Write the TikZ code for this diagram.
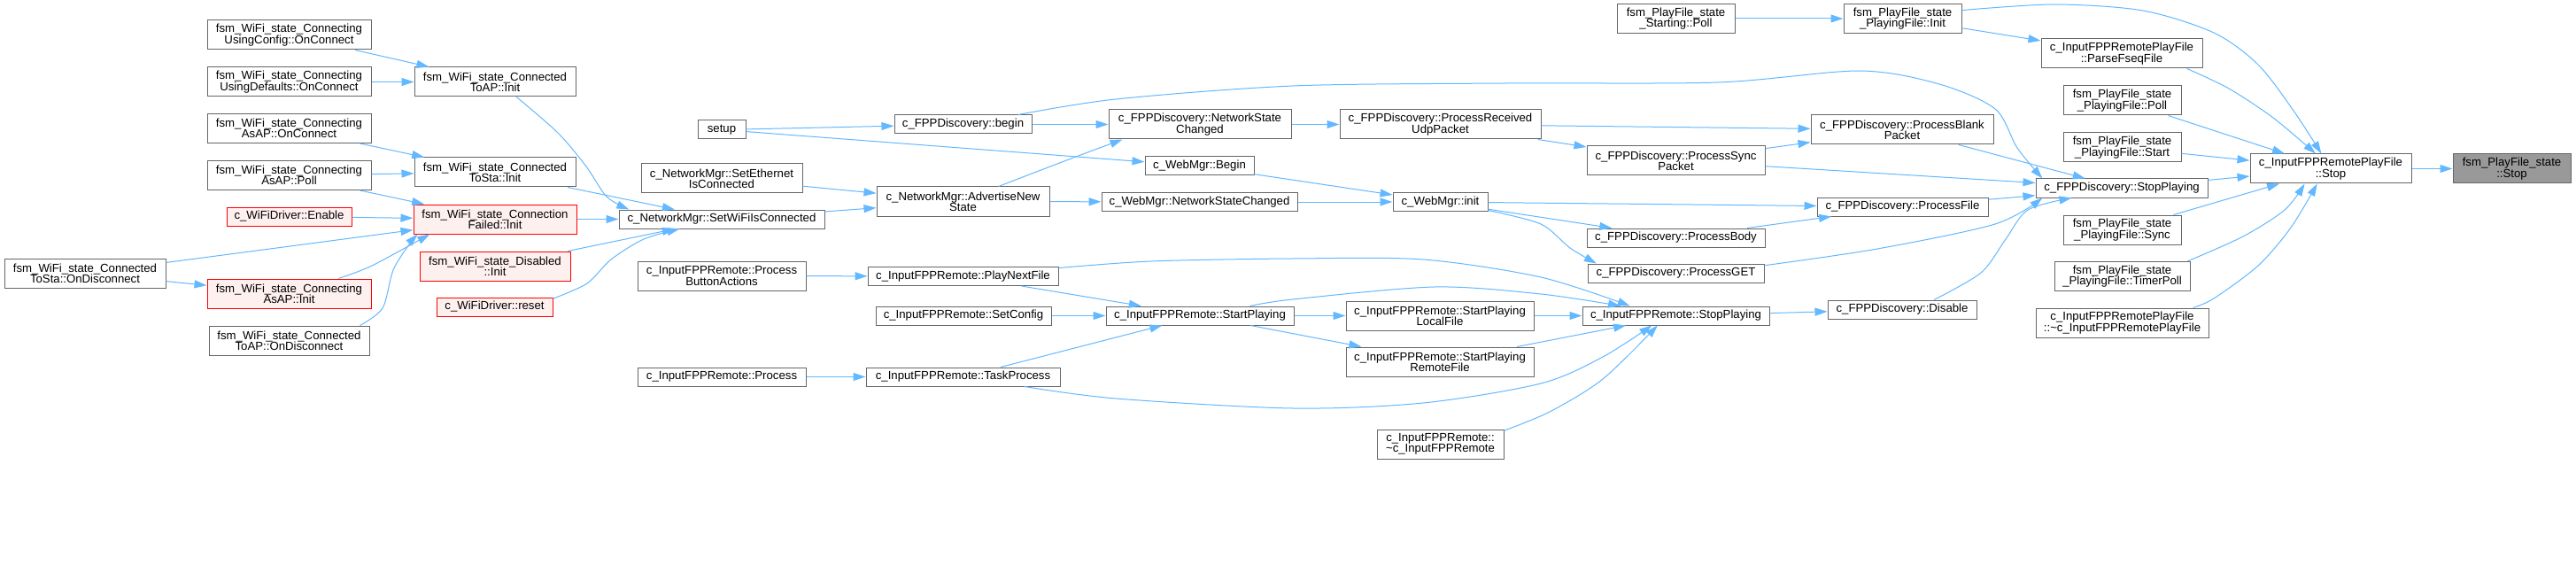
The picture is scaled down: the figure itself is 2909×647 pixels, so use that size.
\documentclass[tikz,border=0pt]{standalone}
\usepackage{fontspec}
\setmainfont{Liberation Sans}
\usetikzlibrary{arrows.meta}
\definecolor{edgec}{HTML}{63B8FF}
\definecolor{boxc}{HTML}{666666}
\definecolor{redfill}{HTML}{FFF0F0}
\definecolor{rootfill}{HTML}{999999}
\newcommand\dxfont{\fontsize{13.2}{12.2}\selectfont\lineskiplimit=-30pt\relax}
\begin{document}
\begin{tikzpicture}[x=1pt,y=-1pt,
 box/.style={draw=boxc, fill=white, line width=1pt, inner sep=0pt, align=center, font=\dxfont, text=black},
 redbox/.style={box, draw=red, fill=redfill},
 rootbox/.style={box, fill=rootfill},
 sz/.style 2 args={minimum width=#1pt, minimum height=#2pt},
 edge/.style={draw=edgec, line width=1pt, -{Triangle[length=14pt,width=9pt]}}]
\useasboundingbox[fill=white] (0,0) rectangle (2909,647);

% WiFi state machine side
\node[box, sz={185}{33}] (ucOn) at (326.5,39.5) {fsm\_WiFi\_state\_Connecting\\UsingConfig::OnConnect};
\node[box, sz={185}{33}] (udOn) at (326.5,92.5) {fsm\_WiFi\_state\_Connecting\\UsingDefaults::OnConnect};
\node[box, sz={185}{33}] (aaOn) at (326.5,145) {fsm\_WiFi\_state\_Connecting\\AsAP::OnConnect};
\node[box, sz={185}{33}] (aaPoll) at (326.5,198) {fsm\_WiFi\_state\_Connecting\\AsAP::Poll};
\node[redbox, sz={141}{21}] (wdEn) at (326.5,244.5) {c\_WiFiDriver::Enable};
\node[box, sz={182}{33}] (tsOnD) at (96,308.5) {fsm\_WiFi\_state\_Connected\\ToSta::OnDisconnect};
\node[redbox, sz={185}{33}] (aaInit) at (326.5,331.5) {fsm\_WiFi\_state\_Connecting\\AsAP::Init};
\node[box, sz={181}{33}] (apOnD) at (326.5,384.5) {fsm\_WiFi\_state\_Connected\\ToAP::OnDisconnect};
\node[box, sz={182}{33}] (apInit) at (559,92.5) {fsm\_WiFi\_state\_Connected\\ToAP::Init};
\node[box, sz={182}{33}] (tsInit) at (559,194.5) {fsm\_WiFi\_state\_Connected\\ToSta::Init};
\node[redbox, sz={184}{33}] (cfInit) at (559,247.5) {fsm\_WiFi\_state\_Connection\\Failed::Init};
\node[redbox, sz={170}{33}] (disInit) at (559,300.5) {fsm\_WiFi\_state\_Disabled\\::Init};
\node[redbox, sz={131}{21}] (wdReset) at (558.5,346.5) {c\_WiFiDriver::reset};
\node[box, sz={54}{21}] (setup) at (815,146.5) {setup};
\node[box, sz={182}{33}] (setEth) at (815,201.5) {c\_NetworkMgr::SetEthernet\\IsConnected};
\node[box, sz={232}{21}] (setWiFi) at (815,247.5) {c\_NetworkMgr::SetWiFiIsConnected};
\node[box, sz={190}{33}] (pba) at (815,311.5) {c\_InputFPPRemote::Process\\ButtonActions};
\node[box, sz={190}{21}] (proc) at (815,425.5) {c\_InputFPPRemote::Process};

% middle
\node[box, sz={155}{21}] (fdBegin) at (1087.5,140.5) {c\_FPPDiscovery::begin};
\node[box, sz={206}{33}] (fdNSC) at (1355,140.5) {c\_FPPDiscovery::NetworkState\\Changed};
\node[box, sz={123}{21}] (wmBegin) at (1354.5,187.5) {c\_WebMgr::Begin};
\node[box, sz={195}{33}] (adv) at (1087.5,227.5) {c\_NetworkMgr::AdvertiseNew\\State};
\node[box, sz={221}{21}] (wmNSC) at (1354.5,228) {c\_WebMgr::NetworkStateChanged};
\node[box, sz={215}{21}] (pnf) at (1087.5,312) {c\_InputFPPRemote::PlayNextFile};
\node[box, sz={198}{21}] (setCfg) at (1088,356.5) {c\_InputFPPRemote::SetConfig};
\node[box, sz={212}{21}] (startP) at (1355,356.5) {c\_InputFPPRemote::StartPlaying};
\node[box, sz={219}{21}] (taskP) at (1087.5,425.5) {c\_InputFPPRemote::TaskProcess};
\node[box, sz={133}{33}] (spoll) at (1892.5,21) {fsm\_PlayFile\_state\\\_Starting::Poll};
\node[box, sz={227}{33}] (prup) at (1626.5,140.5) {c\_FPPDiscovery::ProcessReceived\\UdpPacket};
\node[box, sz={201}{33}] (psync) at (1892.5,181.5) {c\_FPPDiscovery::ProcessSync\\Packet};
\node[box, sz={107}{21}] (wmInit) at (1626.5,228) {c\_WebMgr::init};
\node[box, sz={201}{21}] (pbody) at (1892.5,268.5) {c\_FPPDiscovery::ProcessBody};
\node[box, sz={199}{21}] (pget) at (1892.5,308.5) {c\_FPPDiscovery::ProcessGET};
\node[box, sz={212}{33}] (spLocal) at (1626,356.5) {c\_InputFPPRemote::StartPlaying\\LocalFile};
\node[box, sz={212}{33}] (spRemote) at (1626,408.5) {c\_InputFPPRemote::StartPlaying\\RemoteFile};
\node[box, sz={211}{21}] (ifStop) at (1892.5,356.5) {c\_InputFPPRemote::StopPlaying};
\node[box, sz={143}{33}] (dtor) at (1626.5,501.5) {c\_InputFPPRemote::\\\textasciitilde c\_InputFPPRemote};

% right side
\node[box, sz={133}{33}] (pfInit) at (2148.5,21) {fsm\_PlayFile\_state\\\_PlayingFile::Init};
\node[box, sz={182}{33}] (parse) at (2396,60.5) {c\_InputFPPRemotePlayFile\\::ParseFseqFile};
\node[box, sz={133}{33}] (pfPoll) at (2396.5,113.5) {fsm\_PlayFile\_state\\\_PlayingFile::Poll};
\node[box, sz={133}{33}] (pfStart) at (2396.5,166.5) {fsm\_PlayFile\_state\\\_PlayingFile::Start};
\node[box, sz={206}{33}] (pblank) at (2148,146.5) {c\_FPPDiscovery::ProcessBlank\\Packet};
\node[box, sz={194}{21}] (fdStop) at (2396,212.5) {c\_FPPDiscovery::StopPlaying};
\node[box, sz={193}{21}] (pfile) at (2148.5,233.5) {c\_FPPDiscovery::ProcessFile};
\node[box, sz={133}{33}] (pfSync) at (2396.5,259.5) {fsm\_PlayFile\_state\\\_PlayingFile::Sync};
\node[box, sz={153}{33}] (pfTimer) at (2396.5,312) {fsm\_PlayFile\_state\\\_PlayingFile::TimerPoll};
\node[box, sz={195}{33}] (pfDtor) at (2396.5,364.5) {c\_InputFPPRemotePlayFile\\::\textasciitilde c\_InputFPPRemotePlayFile};
\node[box, sz={168}{21}] (fdDis) at (2148,349.5) {c\_FPPDiscovery::Disable};
\node[box, sz={182}{33}] (ipStop) at (2632,190.5) {c\_InputFPPRemotePlayFile\\::Stop};
\node[rootbox, sz={133}{33}] (fsmStop) at (2836.5,190.5) {fsm\_PlayFile\_state\\::Stop};

% straight edges
\draw[edge] (ucOn) -- (apInit);
\draw[edge] (udOn) -- (apInit);
\draw[edge] (aaOn) -- (tsInit);
\draw[edge] (aaPoll) -- (tsInit);
\draw[edge] (aaPoll) -- (cfInit);
\draw[edge] (wdEn) -- (cfInit);
\draw[edge] (tsOnD) -- (cfInit);
\draw[edge] (tsOnD) -- (aaInit);
\draw[edge] (tsInit) -- (setWiFi);
\draw[edge] (cfInit) -- (setWiFi);
\draw[edge] (disInit) -- (setWiFi);
\draw[edge] (setup) -- (fdBegin);
\draw[edge] (setup) -- (wmBegin);
\draw[edge] (setEth) -- (adv);
\draw[edge] (setWiFi) -- (adv);
\draw[edge] (pba) -- (pnf);
\draw[edge] (proc) -- (taskP);
\draw[edge] (fdBegin) -- (fdNSC);
\draw[edge] (wmBegin) -- (wmInit);
\draw[edge] (wmNSC) -- (wmInit);
\draw[edge] (adv) -- (wmNSC);
\draw[edge] (pnf) -- (startP);
\draw[edge] (setCfg) -- (startP);
\draw[edge] (taskP) -- (startP);
\draw[edge] (startP) -- (spLocal);
\draw[edge] (startP) -- (spRemote);
\draw[edge] (spLocal) -- (ifStop);
\draw[edge] (spRemote) -- (ifStop);
\draw[edge] (ifStop) -- (fdDis);
\draw[edge] (prup) -- (pblank);
\draw[edge] (prup) -- (psync);
\draw[edge] (fdNSC) -- (prup);
\draw[edge] (wmInit) -- (pfile);
\draw[edge] (wmInit) -- (pbody);
\draw[edge] (pbody) -- (pfile);
\draw[edge] (psync) -- (pblank);
\draw[edge] (psync) -- (fdStop);
\draw[edge] (pblank) -- (fdStop);
\draw[edge] (pfile) -- (fdStop);
\draw[edge] (spoll) -- (pfInit);
\draw[edge] (pfInit) -- (parse);
\draw[edge] (pfPoll) -- (ipStop);
\draw[edge] (pfStart) -- (ipStop);
\draw[edge] (fdStop) -- (ipStop);
\draw[edge] (pfSync) -- (ipStop);
\draw[edge] (ipStop) -- (fsmStop);

% curved edges
\draw[edge] plot[smooth] coordinates {(aaInit.17) (420,300) (cfInit.193)};
\draw[edge] plot[smooth] coordinates {(apOnD.12) (432,348) (444,305) (462,276) (cfInit.191)};
\draw[edge] plot[smooth] coordinates {(apInit.-35) (630,150) (662,188) (685,222) (setWiFi.174)};
\draw[edge] plot[smooth] coordinates {(wdReset.8) (663,320) (690,293) (727,270) (setWiFi.193)};
\draw[edge] plot[smooth] coordinates {(fdBegin.10) (1260,112) (1460,97) (1700,94) (1940,93) (2100,80) (2190,95) (2253,123) (2278,167) (fdStop.173)};
\draw[edge] plot[smooth] coordinates {(adv.23) (1207,180) (fdNSC.191)};
\draw[edge] plot[smooth] coordinates {(pnf.5) (1300,295) (1460,292) (1607,293) (1740,313) (ifStop.168)};
\draw[edge] plot[smooth] coordinates {(startP.11) (1460,338) (1620,324) (1740,332) (ifStop.170)};
\draw[edge] plot[smooth] coordinates {(taskP.-9) (1260,450) (1460,461) (1607,455) (1740,433) (1810,403) (ifStop.202)};
\draw[edge] plot[smooth] coordinates {(dtor.12) (1750,465) (1810,428) (ifStop.208)};
\draw[edge] plot[smooth] coordinates {(wmInit.-10) (1740,253) (1773,280) (pget.173)};
\draw[edge] plot[smooth] coordinates {(pget.5) (2120,281) (2253,253) (fdStop.187)};
\draw[edge] plot[smooth] coordinates {(fdDis.17) (2237,308) (2265,270) (2290,237) (fdStop.191)};
\draw[edge] plot[smooth] coordinates {(pfInit.8) (2320,5) (2420,12) (2500,37) (2550,73) (2590,125) (ipStop.122)};
\draw[edge] plot[smooth] coordinates {(parse.-13) (2517,100) (2567,133) (ipStop.135)};
\draw[edge] plot[smooth] coordinates {(pfTimer.13) (2533,267) (2580,237) (ipStop.210)};
\draw[edge] plot[smooth] coordinates {(pfDtor.12) (2500,337) (2550,300) (2587,257) (ipStop.228)};
\end{tikzpicture}
\end{document}
